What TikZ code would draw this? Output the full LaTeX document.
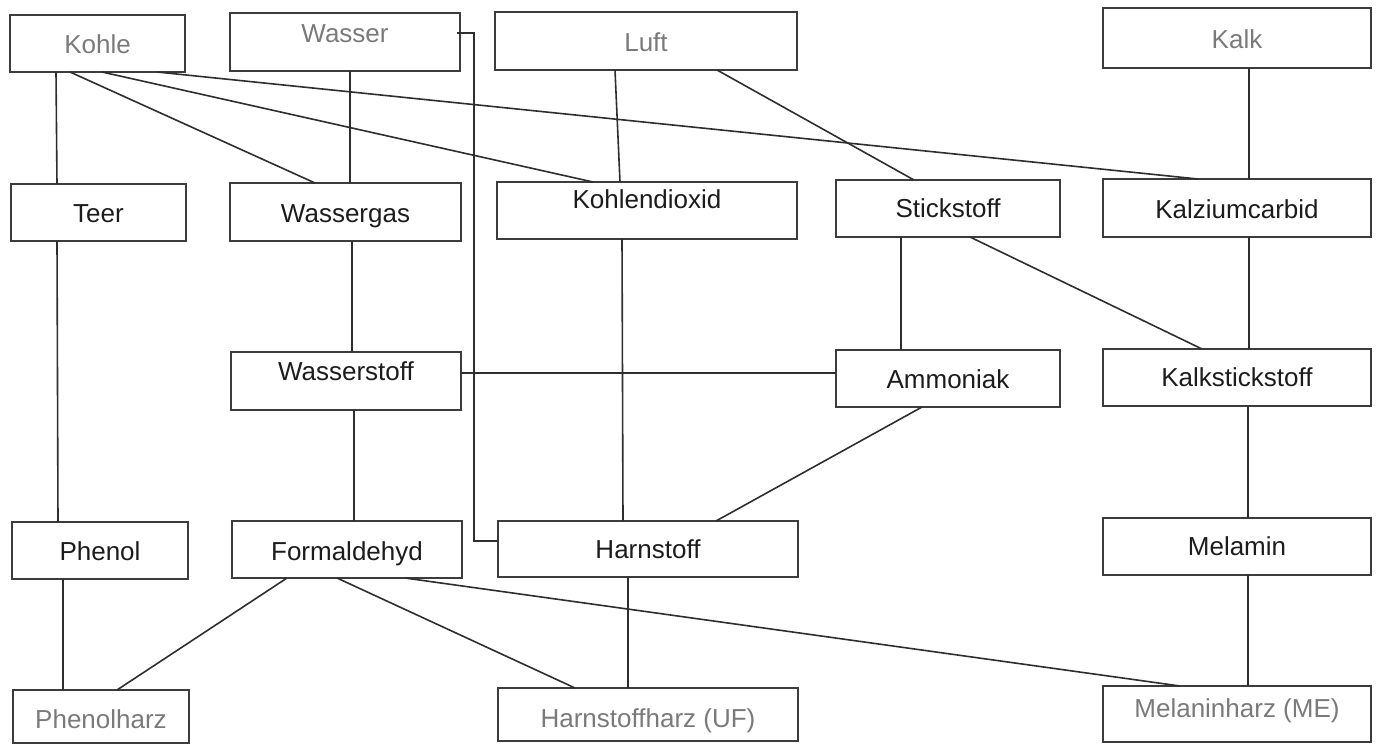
\documentclass[tikz,border=0pt]{standalone}
\usepackage{fontspec}
\setmainfont{Liberation Sans}
\usetikzlibrary{calc}
\definecolor{txtgrey}{HTML}{7A7A7A}
\definecolor{txtdark}{HTML}{1C1C1C}
\definecolor{linedark}{HTML}{2E2E2E}
\definecolor{boxline}{HTML}{3C3C3C}
\tikzset{
  box/.style={draw=boxline, line width=1.6pt, inner sep=0pt, outer sep=0pt, rectangle},
  lbl/.style={inner sep=0pt, outer sep=0pt, anchor=base, font=\fontsize{26}{30}\selectfont},
  conn/.style={draw=linedark, line width=1.6pt},
}
% \mybox{name}{x1}{y1}{x2}{y2}{colour}{dy}{text}
\newcommand\mybox[8]{%
  \node[box, minimum width={(#4-#2)*1pt}, minimum height={(#5-#3)*1pt}] (#1) at ({(#2+#4)/2},{(#3+#5)/2}) {};
  \node[lbl, text=#6] (#1-t) at ([shift={(0,#7+9.3)}]#1.center) {#8};
}
\begin{document}
\begin{tikzpicture}[x=1pt,y=-1pt]
\useasboundingbox (0,0) rectangle (1379,744);
% row 1
\mybox{kohle}{10}{15}{185}{72}{txtgrey}{1}{Kohle}
\mybox{wasser}{230}{13}{460}{71}{txtgrey}{-9}{Wasser}
\mybox{luft}{495}{12}{797}{70}{txtgrey}{1}{Luft}
\mybox{kalk}{1103}{8}{1371}{68}{txtgrey}{1}{Kalk}
% row 2
\mybox{teer}{11}{184}{186}{241}{txtdark}{1}{Teer}
\mybox{wassergas}{230}{183}{461}{241}{txtdark}{1}{Wassergas}
\mybox{kohlendioxid}{497}{182}{797}{239}{txtdark}{-11}{Kohlendioxid}
\mybox{stickstoff}{836}{180}{1060}{237}{txtdark}{0}{Stickstoff}
\mybox{kalziumcarbid}{1103}{179}{1371}{237}{txtdark}{1}{Kalziumcarbid}
% row 3
\mybox{wasserstoff}{231}{352}{461}{410}{txtdark}{-10}{Wasserstoff}
\mybox{ammoniak}{836}{350}{1060}{407}{txtdark}{0.5}{Ammoniak}
\mybox{kalkstickstoff}{1103}{349}{1371}{406}{txtdark}{0}{Kalkstickstoff}
% row 4
\mybox{phenol}{12}{522}{188}{579}{txtdark}{1}{Phenol}
\mybox{formaldehyd}{232}{521}{462}{578}{txtdark}{1.5}{Formaldehyd}
\mybox{harnstoff}{498}{521}{798}{577}{txtdark}{0}{Harnstoff}
\mybox{melamin}{1103}{518}{1371}{575}{txtdark}{0}{Melamin}
% row 5
\mybox{phenolharz}{13}{690}{189}{743}{txtgrey}{3}{Phenolharz}
\mybox{harnstoffharz}{498}{688}{798}{741}{txtgrey}{4}{Harnstoffharz (UF)}
\mybox{melaninharz}{1103}{686}{1371}{742}{txtgrey}{-6}{Melaninharz (ME)}
% connectors from Kohle
\draw[conn] ($(kohle.south west)+(46,0)$) -- ($(teer.north west)+(46,0)$);
\draw[conn] ($(kohle.south west)+(60,0)$) -- ($(wassergas.north west)+(85,0)$);
\draw[conn] ($(kohle.south west)+(92,0)$) -- ($(kohlendioxid.north west)+(96,0)$);
\draw[conn] ($(kohle.south west)+(147,0)$) -- ($(kalziumcarbid.north west)+(95,0)$);
% Wasser
\draw[conn] ($(wasser.south west)+(120,0)$) -- ($(wassergas.north west)+(120,0)$);
\draw[conn] ([shift={(-3,-9)}]wasser.east) -- ++(17,0) |- ([shift={(0,-8)}]harnstoff.west);
% Luft
\draw[conn] ($(luft.south west)+(120,0)$) -- ($(kohlendioxid.north west)+(123,0)$);
\draw[conn] ($(luft.south west)+(222,0)$) -- ($(stickstoff.north west)+(78,0)$);
% Kalk
\draw[conn] ($(kalk.south west)+(146,0)$) -- ($(kalziumcarbid.north west)+(146,0)$);
% row 2 -> row 3/4
\draw[conn] ($(teer.south west)+(46,0)$) -- ($(phenol.north west)+(46,0)$);
\draw[conn] ($(wassergas.south west)+(122,0)$) -- ($(wasserstoff.north west)+(121,0)$);
\draw[conn] ($(kohlendioxid.south west)+(125,0)$) -- ($(harnstoff.north west)+(125,0)$);
\draw[conn] ($(stickstoff.south west)+(65,0)$) -- ($(ammoniak.north west)+(65,0)$);
\draw[conn] ($(stickstoff.south west)+(134,0)$) -- ($(kalkstickstoff.north west)+(99,0)$);
\draw[conn] ($(kalziumcarbid.south west)+(146,0)$) -- ($(kalkstickstoff.north west)+(146,0)$);
% row 3
\draw[conn] ([shift={(0,-8)}]wasserstoff.east) -- ([shift={(0,-5.5)}]ammoniak.west);
\draw[conn] ($(ammoniak.south west)+(86,0)$) -- ($(harnstoff.north west)+(218,0)$);
\draw[conn] ($(wasserstoff.south west)+(123,0)$) -- ($(formaldehyd.north west)+(122,0)$);
\draw[conn] ($(kalkstickstoff.south west)+(145,0)$) -- ($(melamin.north west)+(145,0)$);
% row 4 -> row 5
\draw[conn] ($(phenol.south west)+(51,0)$) -- ($(phenolharz.north west)+(50,0)$);
\draw[conn] ($(formaldehyd.south west)+(55,0)$) -- ($(phenolharz.north west)+(104,0)$);
\draw[conn] ($(formaldehyd.south west)+(105,0)$) -- ($(harnstoffharz.north west)+(77,0)$);
\draw[conn] ($(formaldehyd.south west)+(173,0)$) -- ($(melaninharz.north west)+(77,0)$);
\draw[conn] ($(harnstoff.south west)+(130,0)$) -- ($(harnstoffharz.north west)+(130,0)$);
\draw[conn] ($(melamin.south west)+(145,0)$) -- ($(melaninharz.north west)+(145,0)$);
\end{tikzpicture}
\end{document}
